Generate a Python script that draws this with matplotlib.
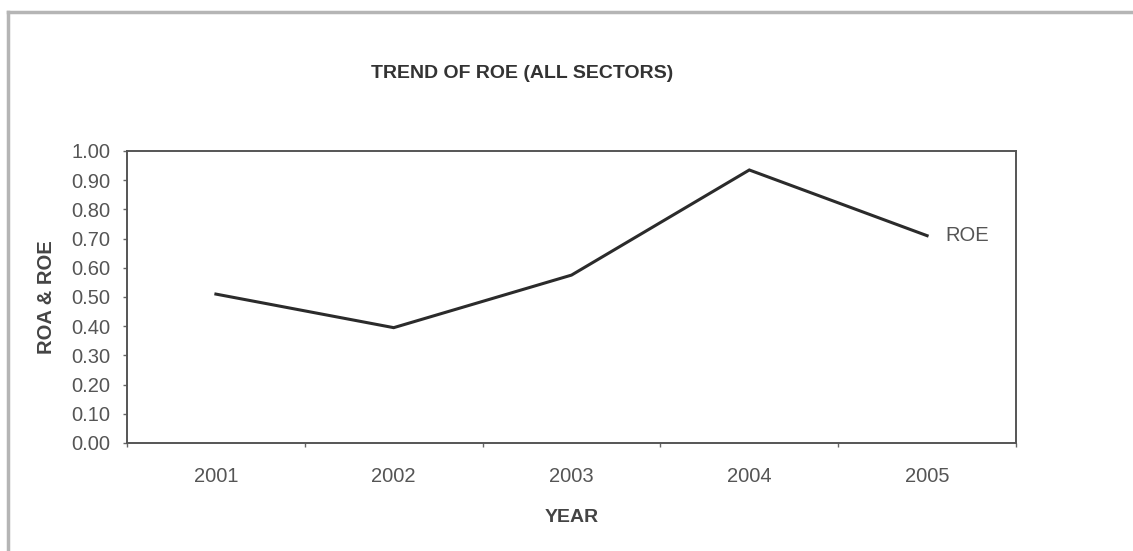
import matplotlib
matplotlib.use("Agg")
import matplotlib.pyplot as plt
from matplotlib.lines import Line2D
import numpy as np

years = ["2001", "2002", "2003", "2004", "2005"]
roe = [0.51, 0.395, 0.575, 0.935, 0.71]
yticks = [0.0, 0.1, 0.2, 0.3, 0.4, 0.5, 0.6, 0.7, 0.8, 0.9, 1.0]

plt.rcParams["font.family"] = ["Liberation Sans", "DejaVu Sans"]

W, H = 1133, 551
fig = plt.figure(figsize=(W / 100, H / 100), dpi=100)
fig.patch.set_facecolor("white")

# page frame (top and left edges)
fig.add_artist(Line2D([8 / W, 1.0], [1 - 12 / H, 1 - 12 / H],
                      transform=fig.transFigure, color="#b5b5b5", lw=2.5))
fig.add_artist(Line2D([8 / W, 8 / W], [0.0, 1 - 12 / H],
                      transform=fig.transFigure, color="#b5b5b5", lw=2.5))

ax = fig.add_axes([127 / W, 108 / H, 889 / W, 292 / H])
x = np.arange(1, len(years) + 1)
ax.plot(x, roe, color="#2b2b2b", lw=2.2, solid_joinstyle="miter")
ax.text(x[-1] + 0.1, roe[-1], "ROE", color="#555555", fontsize=14.5,
        va="center", ha="left")

ax.set_xlim(0.5, len(years) + 0.5)
ax.set_ylim(0, 1.0)
ax.set_yticks(yticks)
ax.set_yticklabels([f"{v:.2f}" for v in yticks])
ax.set_xticks(x)
ax.set_xticklabels(years)
ax.set_xticks(np.arange(0.5, len(years) + 1), minor=True)

for s in ax.spines.values():
    s.set_color("#555555")
    s.set_linewidth(1.4)

ax.tick_params(axis="y", which="major", direction="out", length=3, width=1,
               color="#666666", labelsize=14.5, labelcolor="#555555", pad=9)
ax.tick_params(axis="x", which="major", length=0, labelsize=14.5,
               labelcolor="#555555", pad=17)
ax.tick_params(axis="x", which="minor", direction="out", length=3, width=1,
               color="#666666")

ax.set_ylabel("ROA & ROE", fontsize=14.5, fontweight="bold", color="#444444")
ax.yaxis.set_label_coords(-80 / 889, 0.5)
ax.set_xlabel("YEAR", fontsize=14, fontweight="bold", color="#444444")
ax.xaxis.set_label_coords(0.5, -(517 - 443) / 292)
ax.xaxis.label.set_va("center")
ax.yaxis.label.set_va("center")

fig.text(522 / W, 1 - 73 / H, "TREND OF ROE (ALL SECTORS)", fontsize=14,
         fontweight="bold", color="#333333", ha="center", va="center")

fig.savefig("out.png", dpi=100, facecolor="white")
